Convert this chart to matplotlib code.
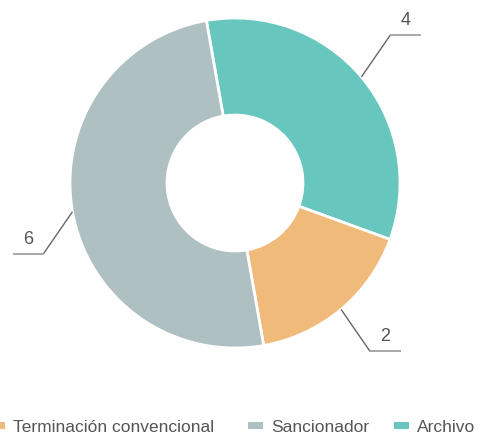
import numpy as np
import matplotlib
matplotlib.use("Agg")
import matplotlib.pyplot as plt
from matplotlib.patches import Rectangle

plt.rcParams["font.family"] = ["Liberation Sans", "DejaVu Sans"]

# data (clockwise from top)
labels = ["Archivo", "Terminación convencional", "Sancionador"]
values = [4, 2, 6]
colors = ["#67c7bf", "#f0ba7b", "#aec0c2"]
legend_order = ["Terminación convencional", "Sancionador", "Archivo"]

W, H = 480, 434
fig = plt.figure(figsize=(W / 100, H / 100), dpi=100)
ax = fig.add_axes([0, 0, 1, 1])

cx, cy = 235, H - 183
R, r = 165, 68
start = 100
wedges, _ = ax.pie(values, colors=colors, startangle=start, counterclock=False,
                   radius=R, center=(cx, cy), frame=True,
                   wedgeprops=dict(width=R - r, edgecolor="white", linewidth=2))
ax.set_xlim(0, W)
ax.set_ylim(0, H)
ax.set_aspect("auto")
ax.axis("off")

# leader lines + value labels
total = sum(values)
ang = start
for v in values:
    span = 360 * v / total
    mid = np.deg2rad(ang - span / 2)
    ang -= span
    x0, y0 = cx + R * np.cos(mid), cy + R * np.sin(mid)
    sx = 1 if np.cos(mid) >= 0 else -1
    sy = 1 if np.sin(mid) >= 0 else -1
    x1, y1 = x0 + sx * 29, y0 + sy * 42
    x2 = x1 + sx * 31
    ax.plot([x0, x1], [y0, y1], color="#666666", lw=1, solid_capstyle="butt")
    ax.plot([x1, x2], [y1, y1], color="#999999", lw=1.2, solid_capstyle="butt")
    ax.text((x1 + x2) / 2, y1 + 6, str(v), ha="center", va="bottom",
            fontsize=13, color="#555555")

# legend (drawn by hand to match the spacing)
leg_x = [-10, 248, 394]
leg_y = H - 425.5
for name, lx in zip(legend_order, leg_x):
    ax.add_patch(Rectangle((lx, leg_y - 3.5), 15, 7, lw=0,
                           facecolor=colors[labels.index(name)], clip_on=False))
    ax.text(lx + 23, leg_y, name, ha="left", va="center_baseline",
            fontsize=12.5, color="#555555")

fig.savefig("out.png", dpi=100)
